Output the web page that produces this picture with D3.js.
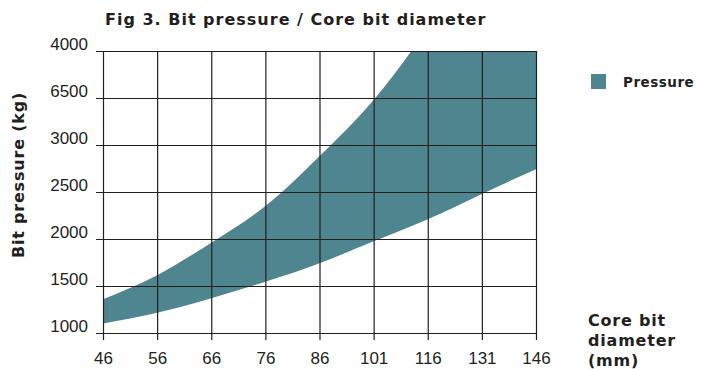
<!DOCTYPE html>
<html>
<head>
<meta charset="utf-8">
<script src="https://cdn.jsdelivr.net/npm/d3@7"></script>
<style>
  body { margin: 0; background: #fff; }
  svg { display: block; }
  .bold { font-family: 'DejaVu Sans', sans-serif; font-weight: bold; fill: #231f20; }
</style>
</head>
<body>
<script>
// data
const diameters = ['46', '56', '66', '76', '86', '101', '116', '131', '146']
const pressureLow = [1100, 1215, 1370, 1545, 1741, 1975, 2210, 2480, 2741]
const pressureHigh = [1360, 1615, 1960, 2350, 2880, 3480, 4250, 5150, 6150]
const yTicks = [1000, 1500, 2000, 2500, 3000, 3500, 4000]
const yTickLabels = ['1000', '1500', '2000', '2500', '3000', '6500', '4000']

const W = 706, H = 369
const plotL = 103, plotR = 536, plotT = 51, plotB = 333
const ink = '#231f20'
const teal = '#4e858e'

const svg = d3.select('body').append('svg')
  .attr('width', W)
  .attr('height', H)

const x = d3.scalePoint().domain(diameters).range([plotL, plotR])
const y = d3.scaleLinear().domain([1000, 4000]).range([plotB, plotT])

svg.append('clipPath').attr('id', 'plot')
  .append('rect')
  .attr('x', plotL).attr('y', plotT)
  .attr('width', plotR - plotL).attr('height', plotB - plotT)

const band = diameters.map((d, i) => ({ d, lo: pressureLow[i], hi: pressureHigh[i] }))

const area = d3.area()
  .x(d => x(d.d))
  .y0(d => y(d.lo))
  .y1(d => y(d.hi))
  .curve(d3.curveNatural)

svg.append('path')
  .datum(band)
  .attr('clip-path', 'url(#plot)')
  .attr('fill', teal)
  .attr('d', area)

// horizontal grid + y labels
const yAxis = svg.append('g')
  .attr('transform', `translate(${plotL},0)`)
  .call(d3.axisLeft(y)
    .tickValues(yTicks)
    .tickFormat((d, i) => yTickLabels[i])
    .tickSizeOuter(0))

yAxis.select('.domain').remove()
yAxis.selectAll('.tick line')
  .attr('x1', -7)
  .attr('x2', plotR - plotL)
  .attr('stroke', ink)
  .attr('stroke-width', 1.2)
yAxis.selectAll('.tick text')
  .attr('x', -15)
  .attr('dy', -2)
  .attr('font-family', "'Liberation Sans', Arial, sans-serif")
  .attr('font-size', 17)
  .attr('fill', ink)

// vertical grid + x labels
const xAxis = svg.append('g')
  .attr('transform', `translate(0,${plotB})`)
  .call(d3.axisBottom(x).tickSizeOuter(0))

xAxis.select('.domain').remove()
xAxis.selectAll('.tick line')
  .attr('y1', plotT - plotB)
  .attr('y2', 7)
  .attr('stroke', ink)
  .attr('stroke-width', 1.2)
xAxis.selectAll('.tick text')
  .attr('y', 31)
  .attr('dy', 0)
  .attr('font-family', "'Liberation Sans', Arial, sans-serif")
  .attr('font-size', 17)
  .attr('fill', ink)

// title
svg.append('text')
  .attr('class', 'bold')
  .attr('x', 105)
  .attr('y', 25)
  .attr('font-size', 16)
  .attr('letter-spacing', 1)
  .text('Fig 3. Bit pressure / Core bit diameter')

// y title
svg.append('text')
  .attr('class', 'bold')
  .attr('transform', 'translate(24,175) rotate(-90)')
  .attr('text-anchor', 'middle')
  .attr('font-size', 16)
  .attr('letter-spacing', 0.8)
  .text('Bit pressure (kg)')

// x title
const xt = svg.append('text')
  .attr('class', 'bold')
  .attr('font-size', 16)
  .attr('letter-spacing', 0.8)
;['Core bit', 'diameter', '(mm)'].forEach((t, i) => {
  xt.append('tspan').attr('x', 588).attr('y', 326 + i * 20).text(t)
})

// legend
svg.append('rect')
  .attr('x', 591).attr('y', 74)
  .attr('width', 15).attr('height', 15)
  .attr('fill', teal)
svg.append('text')
  .attr('class', 'bold')
  .attr('x', 623)
  .attr('y', 87)
  .attr('font-size', 13.5)
  .attr('letter-spacing', 0.5)
  .text('Pressure')
</script>
</body>
</html>
